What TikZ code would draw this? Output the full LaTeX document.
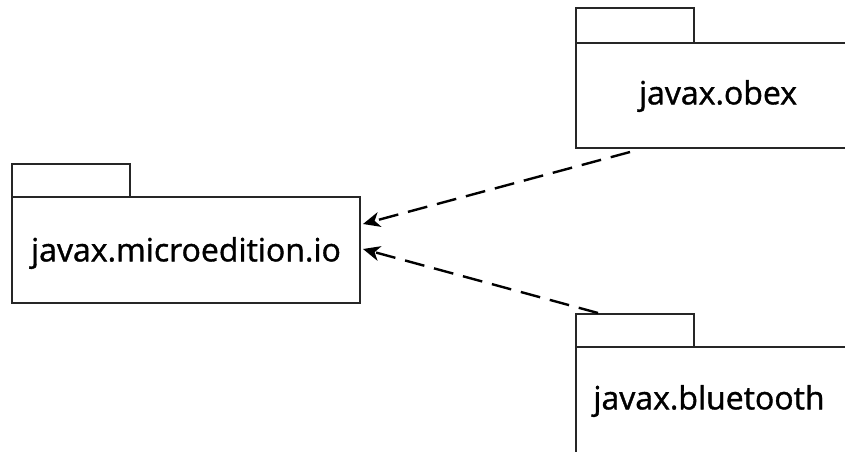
\documentclass[tikz,border=0pt]{standalone}
\usepackage{fontspec}
\newfontfamily\pkgfont{Open Sans}[RawFeature={embolden=1.2}]
\usetikzlibrary{arrows.meta}
\tikzset{
  pkgline/.style={draw=black!85, line width=1.8pt},
  pkglabel/.style={font=\pkgfont\fontsize{32}{36}\selectfont, inner sep=0pt, anchor=center},
  depend/.style={draw=black, line width=2.4pt, dash pattern=on 20pt off 10pt,
    -{Stealth[length=17pt, width=15pt, inset=5pt]}}
}
\begin{document}
\begin{tikzpicture}[x=1pt, y=-1pt]
\useasboundingbox (0,0) rectangle (845,451);
% javax.microedition.io package
\draw[pkgline] (12,197) -- (12,164) -- (130,164) -- (130,197);
\draw[pkgline] (12,197) rectangle (360,303);
\node[pkglabel] (io) at (186,253) {javax.microedition.io};
\coordinate (ioA) at (363,224);
\coordinate (ioB) at (363,249);
% javax.obex package
\draw[pkgline] (576,43) -- (576,8) -- (694,8) -- (694,43);
\draw[pkgline] (576,43) -- (850,43) (576,43) -- (576,148) -- (850,148);
\node[pkglabel] (obex) at (718,96) {javax.obex};
\coordinate (obexA) at (630,152);
% javax.bluetooth package
\draw[pkgline] (576,347) -- (576,314) -- (694,314) -- (694,347);
\draw[pkgline] (576,347) -- (850,347) (576,347) -- (576,460);
\node[pkglabel] (bt) at (709,401) {javax.bluetooth};
\coordinate (btA) at (598,313);
% dependencies
\draw[depend] (obexA) -- (ioA);
\draw[depend] (btA) -- (ioB);
\end{tikzpicture}
\end{document}
